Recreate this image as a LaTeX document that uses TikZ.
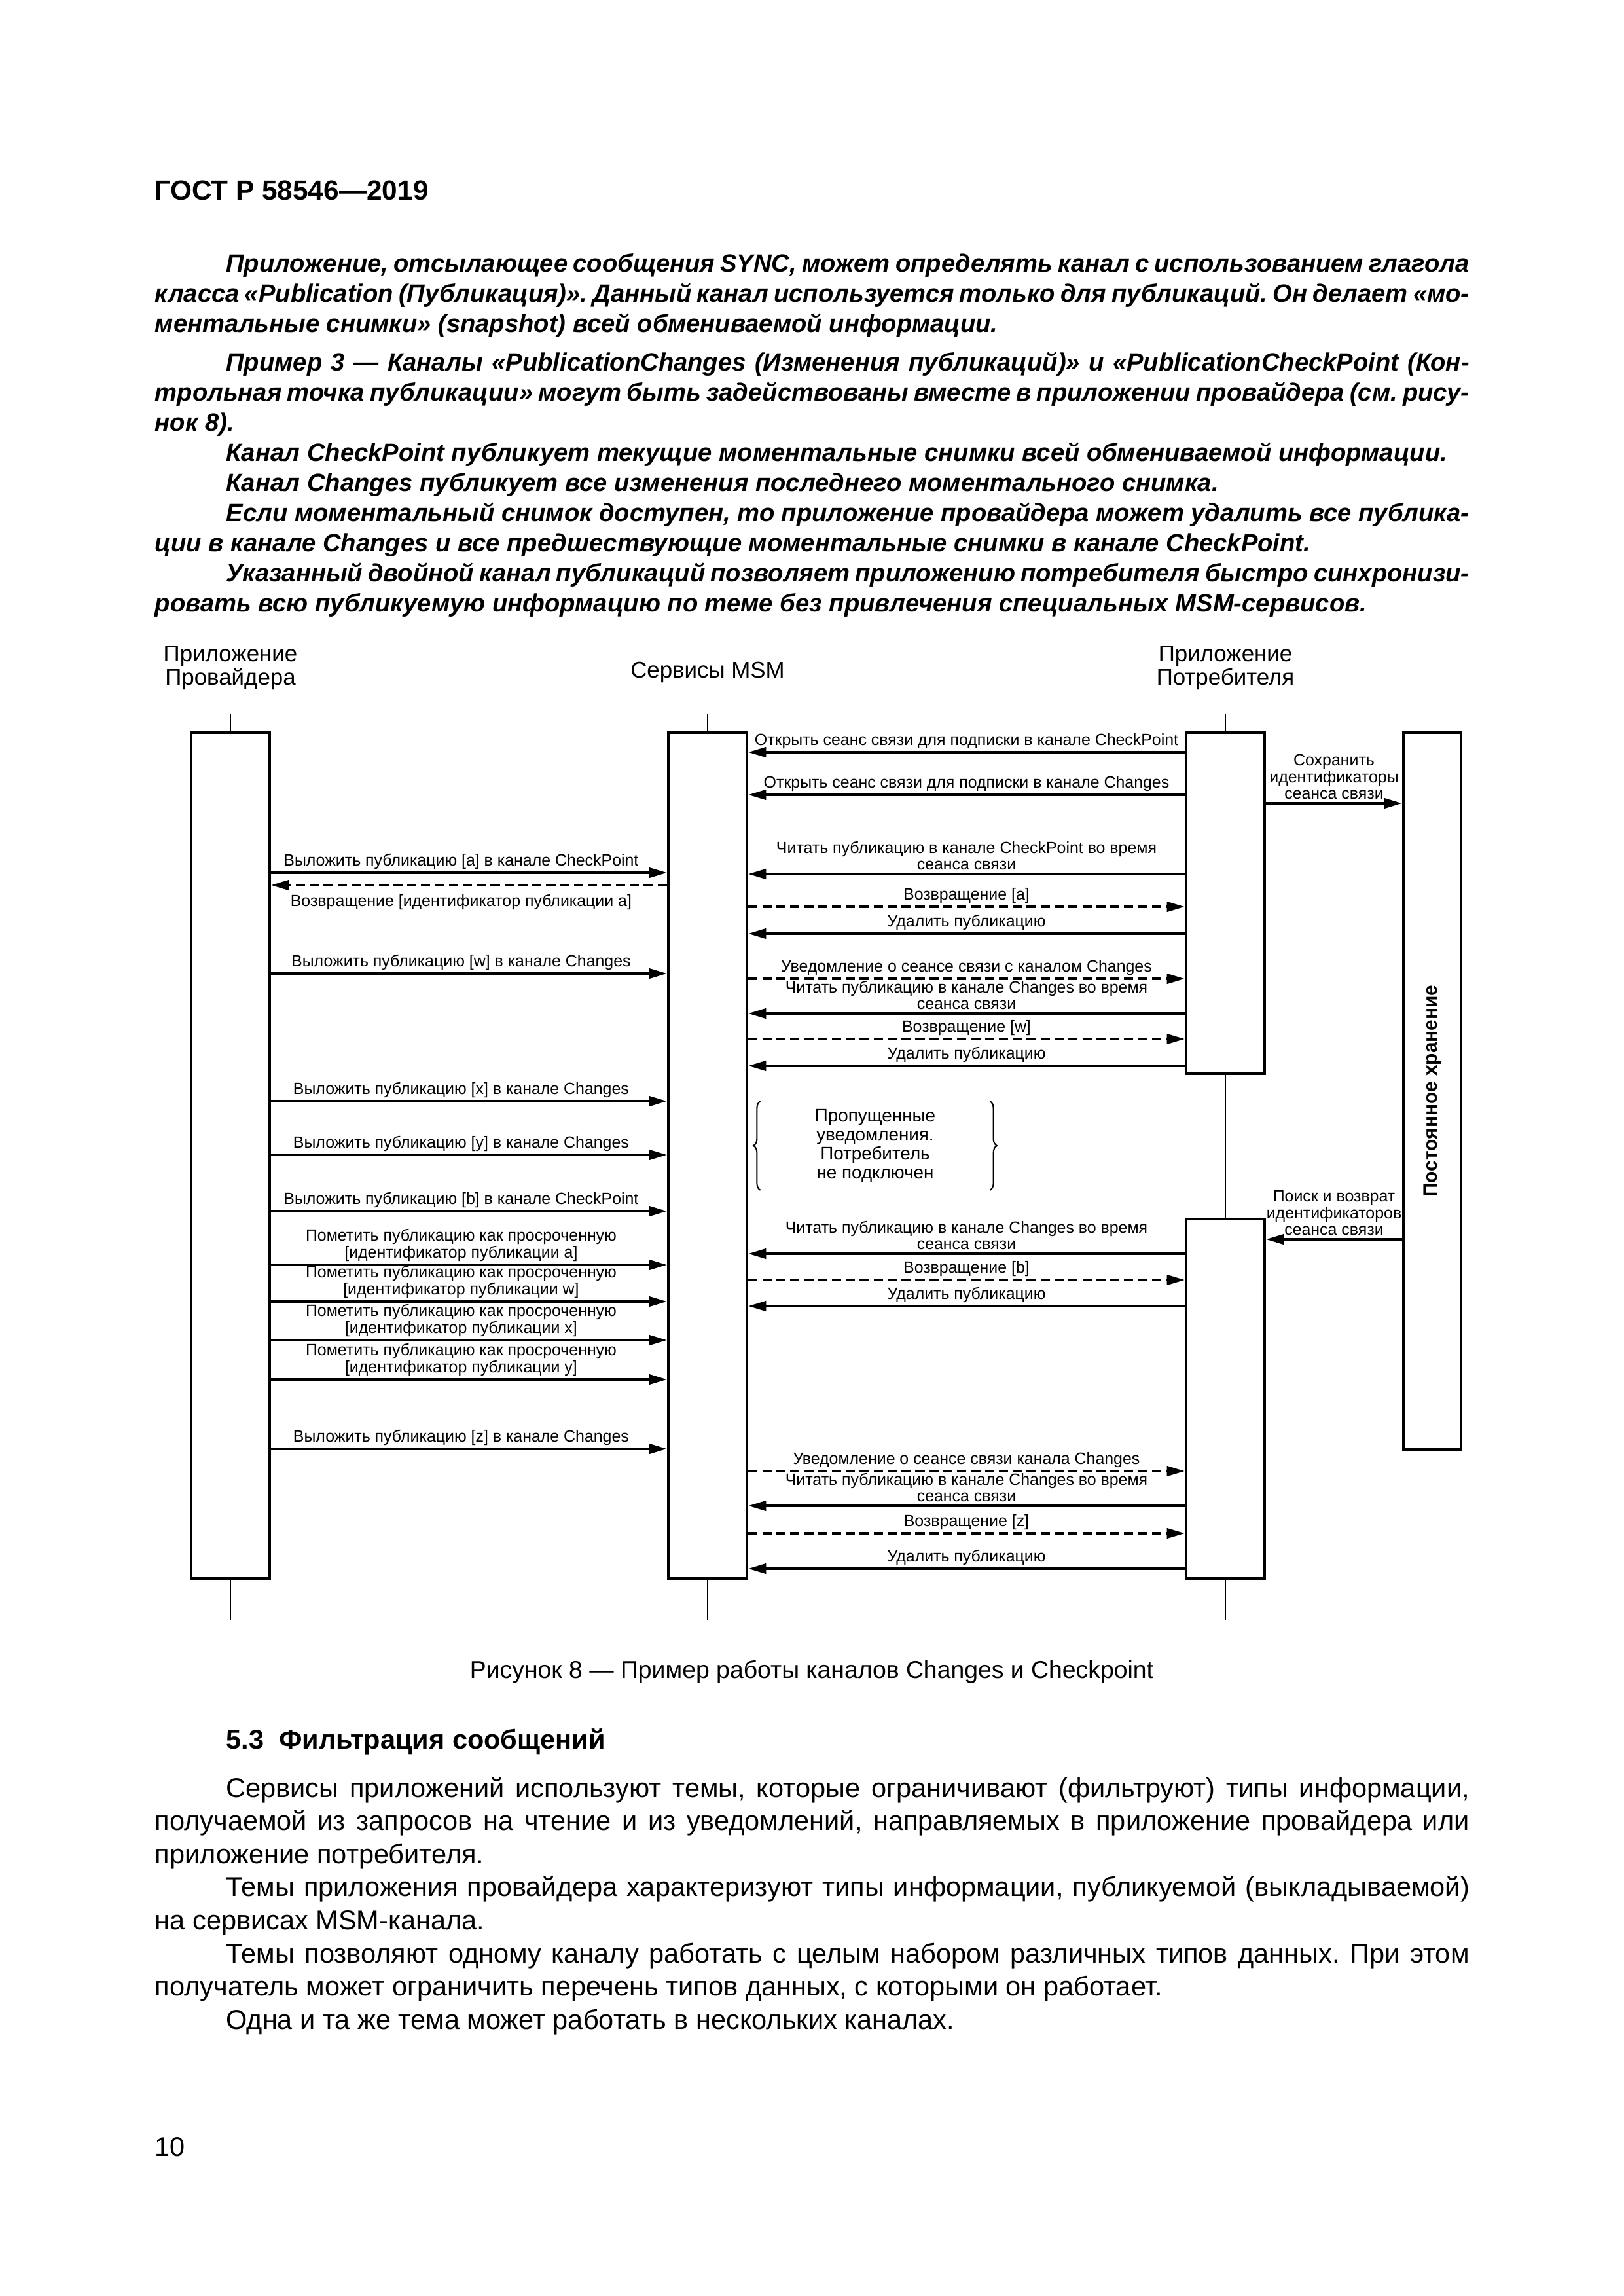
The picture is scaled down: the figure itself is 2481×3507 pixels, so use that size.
\documentclass[tikz,border=0pt]{standalone}
\usepackage{fontspec}
\setmainfont{Liberation Sans}
\usetikzlibrary{arrows.meta,decorations.pathreplacing}
\frenchspacing
\newcommand{\gostind}{\hspace*{9.2mm}}
\tikzset{
  seq/box/.style={draw=black, line width=1.1pt, fill=white, minimum width=10.16mm, inner sep=0pt},
  seq/life/.style={draw=black, line width=0.7pt},
  seq/title/.style={font=\fontsize{8.4}{8.6}\selectfont, align=center, inner sep=0pt},
  seq/call/.style={-{Triangle[length=2.3mm,width=1.3mm]}, line width=0.8pt},
  seq/reply/.style={seq/call, dash pattern=on 1.2mm off 0.6mm},
  seq/lbl/.style={font=\fontsize{6}{6.2}\selectfont, align=center, inner sep=0.35mm},
  seq/brace/.style={decorate, decoration={brace, amplitude=0.9mm}, line width=0.5pt},
  page/text/.style={anchor=base west, inner sep=0pt, text width=170mm, align=justify},
  page/body/.style={page/text, font=\fontsize{10}{12.2}\selectfont},
  page/note/.style={page/text, font=\fontsize{9.2}{11.1}\selectfont\bfseries\itshape},
}
\begin{document}
\begin{tikzpicture}[x=0.0846667mm, y=-0.0846667mm]
  \useasboundingbox (0,0) rectangle (2481,3507);

  % text above the figure
  \node[anchor=base west, inner sep=0pt, font=\fontsize{10.2}{12}\selectfont\bfseries] (hdr) at (236,305) {ГОСТ Р 58546—2019};
  \node[page/note] (note1) at (236,415) {\gostind Приложение, отсылающее сообщения SYNC, может определять канал с использованием глагола\linebreak класса «Publication (Публикация)». Данный канал используется только для публикаций. Он делает «мо-\linebreak ментальные снимки» (snapshot) всей обмениваемой информации.};
  \node[page/note] (note2) at (236,566) {\gostind Пример 3 — Каналы «PublicationChanges (Изменения публикаций)» и «PublicationCheckPoint (Кон-\linebreak трольная точка публикации» могут быть задействованы вместе в приложении провайдера (см. рису-\linebreak нок 8).\par
    \gostind Канал CheckPoint публикует текущие моментальные снимки всей обмениваемой информации.\par
    \gostind Канал Changes публикует все изменения последнего моментального снимка.\par
    \gostind Если моментальный снимок доступен, то приложение провайдера может удалить все публика-\linebreak ции в канале Changes и все предшествующие моментальные снимки в канале CheckPoint.\par
    \gostind Указанный двойной канал публикаций позволяет приложению потребителя быстро синхронизи-\linebreak ровать всю публикуемую информацию по теме без привлечения специальных MSM-сервисов.};

  % participants
  \node[seq/title] (tprov) at (352,1020) {Приложение\\Провайдера};
  \node[seq/title] (tmsm) at (1081,1027) {Сервисы MSM};
  \node[seq/title] (tcons) at (1872,1020) {Приложение\\Потребителя};

  \node[seq/box, minimum height=109.39mm] (prov) at (352,1765) {};
  \node[seq/box, minimum height=109.39mm] (msm) at (1081,1765) {};
  \node[seq/box, minimum height=44.11mm] (cons1) at (1872,1379.5) {};
  \node[seq/box, minimum height=46.48mm] (cons2) at (1872,2136.5) {};
  \node[seq/box, minimum width=7.45mm, minimum height=92.71mm] (store) at (2188,1666.5) {};
  \node[rotate=90, inner sep=0pt, font=\fontsize{7.2}{7.2}\selectfont\bfseries] (storelbl) at (store.center) {Постоянное хранение};

  \draw[seq/life] (prov.north) -- ++(0,-27);
  \draw[seq/life] (prov.south) -- ++(0,61);
  \draw[seq/life] (msm.north) -- ++(0,-27);
  \draw[seq/life] (msm.south) -- ++(0,61);
  \draw[seq/life] (cons1.north) -- ++(0,-27);
  \draw[seq/life] (cons1.south) -- (cons2.north);
  \draw[seq/life] (cons2.south) -- ++(0,61);

  % subscription
  \draw[seq/call] (cons1.west |- 0,1149) -- node[seq/lbl, above] {Открыть сеанс связи для подписки в канале CheckPoint} (msm.east |- 0,1149);
  \draw[seq/call] (cons1.west |- 0,1214) -- node[seq/lbl, above] {Открыть сеанс связи для подписки в канале Changes} (msm.east |- 0,1214);
  \draw[seq/call] (cons1.east |- 0,1227) -- node[seq/lbl, above] {Сохранить\\идентификаторы\\сеанса связи} (store.west |- 0,1227);

  % publication a
  \draw[seq/call] (prov.east |- 0,1333) -- node[seq/lbl, above, pos=.48] {Выложить публикацию [a] в канале CheckPoint} (msm.west |- 0,1333);
  \draw[seq/reply] (msm.west |- 0,1352) -- node[seq/lbl, below, pos=.52, inner sep=1.1mm] {Возвращение [идентификатор публикации a]} (prov.east |- 0,1352);
  \draw[seq/call] (cons1.west |- 0,1335) -- node[seq/lbl, above] {Читать публикацию в канале CheckPoint во время\\сеанса связи} (msm.east |- 0,1335);
  \draw[seq/reply] (msm.east |- 0,1385) -- node[seq/lbl, above] {Возвращение [a]} (cons1.west |- 0,1385);
  \draw[seq/call] (cons1.west |- 0,1426) -- node[seq/lbl, above] {Удалить публикацию} (msm.east |- 0,1426);

  % publication w
  \draw[seq/call] (prov.east |- 0,1487) -- node[seq/lbl, above, pos=.48] {Выложить публикацию [w] в канале Changes} (msm.west |- 0,1487);
  \draw[seq/reply] (msm.east |- 0,1495) -- node[seq/lbl, above] {Уведомление о сеансе связи с каналом Changes} (cons1.west |- 0,1495);
  \draw[seq/call] (cons1.west |- 0,1548) -- node[seq/lbl, above] {Читать публикацию в канале Changes во время\\сеанса связи} (msm.east |- 0,1548);
  \draw[seq/reply] (msm.east |- 0,1587) -- node[seq/lbl, above] {Возвращение [w]} (cons1.west |- 0,1587);
  \draw[seq/call] (cons1.west |- 0,1628) -- node[seq/lbl, above] {Удалить публикацию} (msm.east |- 0,1628);

  % consumer offline
  \draw[seq/call] (prov.east |- 0,1682) -- node[seq/lbl, above, pos=.48] {Выложить публикацию [x] в канале Changes} (msm.west |- 0,1682);
  \draw[seq/call] (prov.east |- 0,1764) -- node[seq/lbl, above, pos=.48] {Выложить публикацию [y] в канале Changes} (msm.west |- 0,1764);
  \node[minimum width=29.55mm, minimum height=11.35mm, inner sep=0pt, align=center, font=\fontsize{6.7}{7}\selectfont] (missed) at (1337,1750) {Пропущенные\\уведомления.\\Потребитель\\не подключен};
  \draw[seq/brace] (missed.south west) -- (missed.north west);
  \draw[seq/brace] (missed.north east) -- (missed.south east);
  \draw[seq/call] (prov.east |- 0,1850) -- node[seq/lbl, above, pos=.48] {Выложить публикацию [b] в канале CheckPoint} (msm.west |- 0,1850);

  % consumer back
  \draw[seq/call] (store.west |- 0,1893) -- node[seq/lbl, above] {Поиск и возврат\\идентификаторов\\сеанса связи} (cons2.east |- 0,1893);
  \draw[seq/call] (prov.east |- 0,1932) -- node[seq/lbl, above, pos=.48] {Пометить публикацию как просроченную\\{}[идентификатор публикации a]} (msm.west |- 0,1932);
  \draw[seq/call] (cons2.west |- 0,1915) -- node[seq/lbl, above] {Читать публикацию в канале Changes во время\\сеанса связи} (msm.east |- 0,1915);
  \draw[seq/reply] (msm.east |- 0,1955) -- node[seq/lbl, above] {Возвращение [b]} (cons2.west |- 0,1955);
  \draw[seq/call] (prov.east |- 0,1988) -- node[seq/lbl, above, pos=.48] {Пометить публикацию как просроченную\\{}[идентификатор публикации w]} (msm.west |- 0,1988);
  \draw[seq/call] (cons2.west |- 0,1995) -- node[seq/lbl, above] {Удалить публикацию} (msm.east |- 0,1995);
  \draw[seq/call] (prov.east |- 0,2047) -- node[seq/lbl, above, pos=.48] {Пометить публикацию как просроченную\\{}[идентификатор публикации x]} (msm.west |- 0,2047);
  \draw[seq/call] (prov.east |- 0,2107) -- node[seq/lbl, above, pos=.48] {Пометить публикацию как просроченную\\{}[идентификатор публикации y]} (msm.west |- 0,2107);

  % publication z
  \draw[seq/call] (prov.east |- 0,2213) -- node[seq/lbl, above, pos=.48] {Выложить публикацию [z] в канале Changes} (msm.west |- 0,2213);
  \draw[seq/reply] (msm.east |- 0,2247) -- node[seq/lbl, above] {Уведомление о сеансе связи канала Changes} (cons2.west |- 0,2247);
  \draw[seq/call] (cons2.west |- 0,2300) -- node[seq/lbl, above] {Читать публикацию в канале Changes во время\\сеанса связи} (msm.east |- 0,2300);
  \draw[seq/reply] (msm.east |- 0,2342) -- node[seq/lbl, above] {Возвращение [z]} (cons2.west |- 0,2342);
  \draw[seq/call] (cons2.west |- 0,2396) -- node[seq/lbl, above] {Удалить публикацию} (msm.east |- 0,2396);

  % text below the figure
  \node[anchor=base, inner sep=0pt, font=\fontsize{9}{11}\selectfont] (cap) at (1240,2563) {Рисунок 8 — Пример работы каналов Changes и Checkpoint};
  \node[anchor=base west, inner sep=0pt, font=\fontsize{10}{12}\selectfont\bfseries] (sec) at (345,2671) {5.3\hspace{0.55em}Фильтрация сообщений};
  \node[page/body] (body) at (236,2745) {\gostind Сервисы приложений используют темы, которые ограничивают (фильтруют) типы информации,\linebreak получаемой из запросов на чтение и из уведомлений, направляемых в приложение провайдера или\linebreak приложение потребителя.\par
    \gostind Темы приложения провайдера характеризуют типы информации, публикуемой (выкладываемой)\linebreak на сервисах MSM-канала.\par
    \gostind Темы позволяют одному каналу работать с целым набором различных типов данных. При этом\linebreak получатель может ограничить перечень типов данных, с которыми он работает.\par
    \gostind Одна и та же тема может работать в нескольких каналах.};
  \node[anchor=base west, inner sep=0pt, font=\fontsize{10}{12}\selectfont] (pnum) at (236,3293) {10};
\end{tikzpicture}
\end{document}
